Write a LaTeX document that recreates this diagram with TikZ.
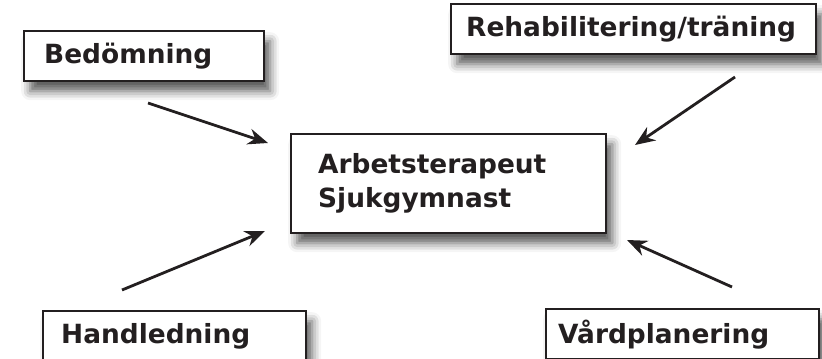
\documentclass[tikz,border=0pt]{standalone}
\usepackage{fontspec}
\setmainfont{DejaVu Sans}
\usetikzlibrary{arrows.meta,shadows.blur}
\definecolor{inkt}{HTML}{231F20}
\tikzset{
  ruta/.style={draw=inkt, line width=1.2pt, fill=white, text=inkt, align=left,
    font=\fontsize{13.2}{17}\selectfont\bfseries, anchor=north west,
    minimum height=25pt,
    blur shadow={shadow xshift=3pt, shadow yshift=-5pt, shadow blur radius=4.5pt, shadow opacity=65}},
  pil/.style={-{Stealth[length=10pt,width=8pt]}, line width=1.4pt, draw=inkt}
}
\begin{document}
\begin{tikzpicture}[x=0.5pt, y=-0.5pt]
            \useasboundingbox (0,0) rectangle (822,358);
            
            % Rutor
            \node[ruta, inner xsep=10pt, text width=100pt] (bed) at (23,30) {Bedömning};
            \node[ruta, inner xsep=7.5pt, text width=167.5pt] (reh) at (450,3) {Rehabilitering/träning};
            \node[ruta, inner xsep=13.5pt, text width=130.5pt, minimum height=49.5pt] (mitt) at (290,133) {Arbetsterapeut\\Sjukgymnast};
            \node[ruta, inner xsep=9pt, text width=113.5pt] (hand) at (42,310) {Handledning};
            \node[ruta, inner xsep=6pt, text width=124.5pt] (vard) at (545,308) {Vårdplanering};
            
            % Pilarnas ändpunkter
            \coordinate (bedA) at (148,103);
            \coordinate (bedB) at (268,143);
            \coordinate (rehA) at (735,77);
            \coordinate (rehB) at (635,145);
            \coordinate (handA) at (122,290);
            \coordinate (handB) at (265,231);
            \coordinate (vardA) at (732,287);
            \coordinate (vardB) at (627,240);
            
            % Pilar
            \draw[pil] (bedA) -- (bedB);
            \draw[pil] (rehA) -- (rehB);
            \draw[pil] (handA) -- (handB);
            \draw[pil] (vardA) -- (vardB);
        \end{tikzpicture}
\end{document}
